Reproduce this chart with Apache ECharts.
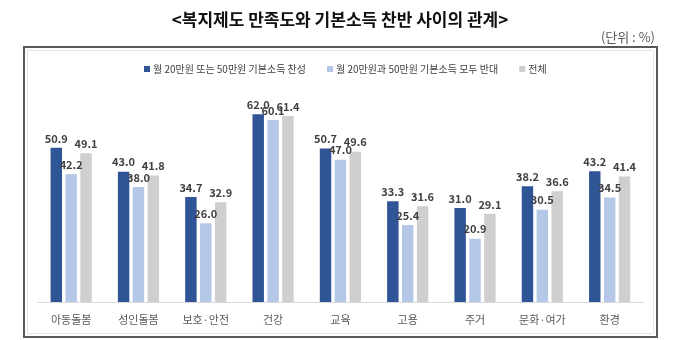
<!DOCTYPE html>
<html>
<head>
<meta charset="utf-8">
<script src="https://cdn.jsdelivr.net/npm/echarts@6/dist/echarts.min.js"></script>
<style>html,body{margin:0;padding:0;background:#fff}#c{width:680px;height:340px}</style>
</head>
<body>
<div id="c"></div>
<script>
var categories = ['아동돌봄', '성인돌봄', '보호·안전', '건강', '교육', '고용', '주거', '문화·여가', '환경'];
var seriesNames = ['월 20만원 또는 50만원 기본소득 찬성', '월 20만원과 50만원 기본소득 모두 반대', '전체'];
var favor = [50.9, 43.0, 34.7, 62.0, 50.7, 33.3, 31.0, 38.2, 43.2];
var oppose = [42.2, 38.0, 26.0, 60.1, 47.0, 25.4, 20.9, 30.5, 34.5];
var total = [49.1, 41.8, 32.9, 61.4, 49.6, 31.6, 29.1, 36.6, 41.4];
var colors = ['#2F5597', '#B4C7E7', '#D0CECE'];

var FONT = '"Noto Sans CJK KR", "Noto Sans", sans-serif';
var chart = echarts.init(document.getElementById('c'), null, {renderer: 'canvas'});

function mk(name, data, color) {
  return {
    name: name, type: 'bar', data: data,
    barWidth: '17%', barGap: '30%',
    itemStyle: {color: color},
    label: {
      show: true, position: 'top', distance: 4,
      fontFamily: FONT, fontSize: 11, fontWeight: 'bold', color: '#404040',
      formatter: function (p) { return p.value.toFixed(1); }
    }
  };
}

chart.setOption({
  animation: false,
  textStyle: {fontFamily: FONT},
  title: {
    text: '<복지제도 만족도와 기본소득 찬반 사이의 관계>',
    left: 'center', top: 6,
    textStyle: {fontFamily: FONT, fontSize: 17, fontWeight: 'bold', color: '#111'}
  },
  graphic: [
    {type: 'rect', shape: {x: 24, y: 47, width: 633, height: 290}, style: {fill: 'none', stroke: '#595959', lineWidth: 2}, silent: true},
    {type: 'rect', shape: {x: 27.5, y: 50.5, width: 626, height: 283}, style: {fill: 'none', stroke: '#E4E4E4', lineWidth: 1}, silent: true},
    {type: 'text', right: 25, top: 31, style: {text: '(단위 : %)', font: '13px ' + FONT, fill: '#595959'}}
  ],
  legend: {
    top: 59, left: 139,
    icon: 'rect', itemWidth: 6, itemHeight: 6, itemGap: 21,
    textStyle: {fontFamily: FONT, fontSize: 10, color: '#404040', padding: [0, 0, 0, -2]},
    data: seriesNames
  },
  grid: {left: 37.5, right: 36.7, top: 90, bottom: 38},
  xAxis: {
    type: 'category', data: categories,
    axisLine: {lineStyle: {color: '#D9D9D9', width: 1}},
    axisTick: {show: false},
    axisLabel: {fontFamily: FONT, fontSize: 11, color: '#595959', margin: 12}
  },
  yAxis: {
    type: 'value', min: 0, max: 70, interval: 10, show: false,
    splitLine: {show: false}
  },
  series: [
    mk(seriesNames[0], favor, colors[0]),
    mk(seriesNames[1], oppose, colors[1]),
    mk(seriesNames[2], total, colors[2])
  ]
});
</script>
</body>
</html>
